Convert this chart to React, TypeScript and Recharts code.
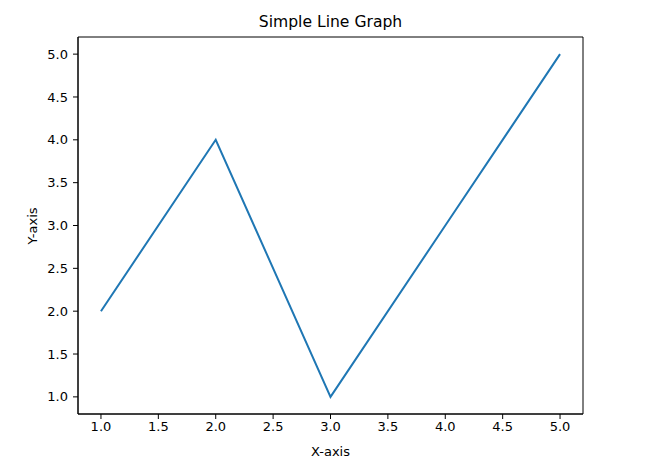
import * as React from "react";
import { LineChart, Line, XAxis, YAxis, ReferenceArea } from "recharts";

const xValues = [1, 2, 3, 4, 5];
const yValues = [2, 4, 1, 3, 5];
const xTicks = [1, 1.5, 2, 2.5, 3, 3.5, 4, 4.5, 5];
const yTicks = [1, 1.5, 2, 2.5, 3, 3.5, 4, 4.5, 5];

const data = xValues.map((x, i) => ({ x, y: yValues[i] }));

const font = "'DejaVu Sans', sans-serif";
const tickStyle = { fill: "#000", fontSize: 13, fontFamily: font };

export default function App() {
  return (
    <div style={{ position: "absolute", left: 0, top: 0, width: 665, height: 463, background: "#fff", fontFamily: font }}>
      <LineChart width={665} height={463} data={data} margin={{ top: 37, right: 82, left: 0, bottom: 0 }}>
        <XAxis
          dataKey="x"
          type="number"
          domain={[0.8, 5.2]}
          ticks={xTicks}
          allowDataOverflow
          tickFormatter={(v: number) => v.toFixed(1)}
          height={49}
          tickSize={5}
          tickMargin={3}
          tick={tickStyle}
          stroke="#000"
          label={{ value: "X-axis", position: "insideBottom", offset: 7, fill: "#000", fontSize: 13, fontFamily: font }}
        />
        <YAxis
          type="number"
          domain={[0.8, 5.2]}
          ticks={yTicks}
          allowDataOverflow
          tickFormatter={(v: number) => v.toFixed(1)}
          width={78}
          tickSize={5}
          tickMargin={5}
          tick={tickStyle}
          stroke="#000"
        />
        <ReferenceArea x1={0.8} x2={5.2} y1={0.8} y2={5.2} fill="none" stroke="#000" strokeWidth={1} />
        <Line
          dataKey="y"
          type="linear"
          stroke="#1f77b4"
          strokeWidth={2}
          dot={false}
          isAnimationActive={false}
        />
      </LineChart>
      <div
        style={{
          position: "absolute",
          left: 78,
          width: 505,
          top: 13,
          textAlign: "center",
          fontSize: 15.6,
          lineHeight: "18px",
          color: "#000",
        }}
      >
        Simple Line Graph
      </div>
      <div
        style={{
          position: "absolute",
          left: 32,
          top: 226,
          transform: "translate(-50%, -50%) rotate(-90deg)",
          fontSize: 13,
          lineHeight: "15px",
          color: "#000",
          whiteSpace: "nowrap",
        }}
      >
        Y-axis
      </div>
    </div>
  );
}
